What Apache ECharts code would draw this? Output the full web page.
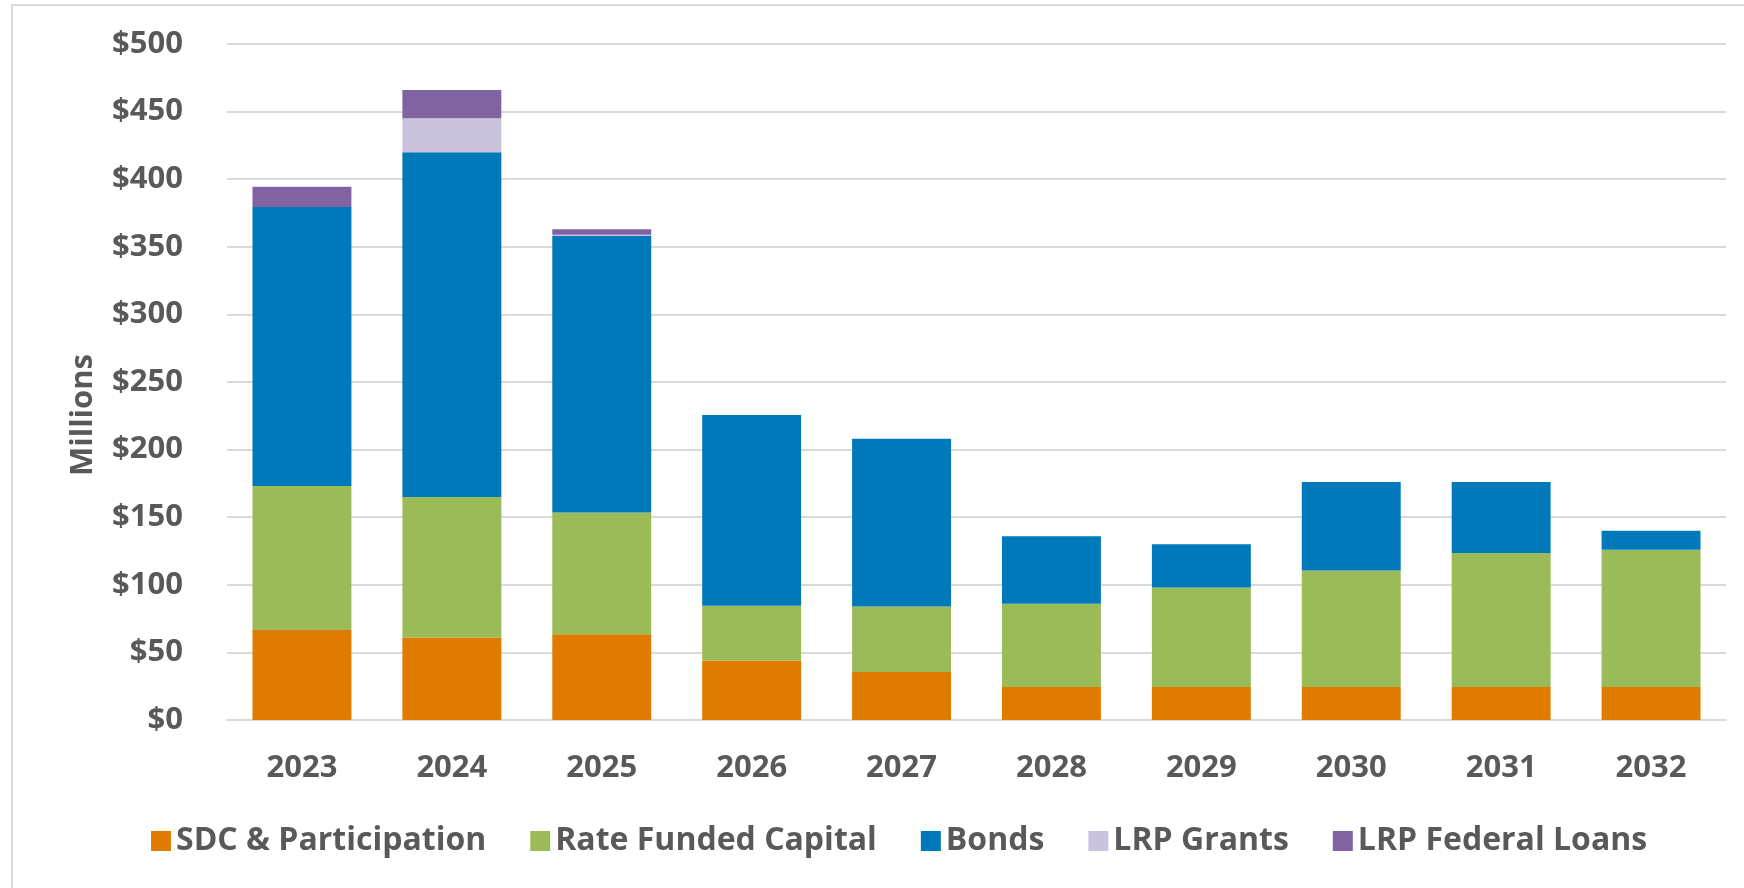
<!DOCTYPE html>
<html>
<head>
<meta charset="utf-8">
<script src="https://cdn.jsdelivr.net/npm/echarts@6/dist/echarts.min.js"></script>
<style>
  html, body { margin: 0; padding: 0; background: #fff; }
  #chart { width: 1744px; height: 888px; }
</style>
</head>
<body>
<div id="chart"></div>
<script>
// capital funding by year, $ millions
var years = ['2023', '2024', '2025', '2026', '2027', '2028', '2029', '2030', '2031', '2032'];
var sdc = [66.5, 61, 63.5, 44, 35.5, 24.5, 24.5, 24.5, 24.5, 24.5];
var rateFunded = [106.5, 104, 90, 40.5, 48.5, 61.5, 73.5, 86, 99, 101.5];
var bonds = [206.5, 255, 204.5, 141, 124, 50, 32, 65.5, 52.5, 14];
var lrpGrants = [0, 25, 1, 0, 0, 0, 0, 0, 0, 0];
var lrpLoans = [15, 21, 4, 0, 0, 0, 0, 0, 0, 0];

var textColor = '#595959';
var fontFam = '"Open Sans", sans-serif';

var myChart = echarts.init(document.getElementById('chart'));

function barSeries(name, data, color) {
    return {
        name: name,
        type: 'bar',
        stack: 'total',
        data: data,
        barWidth: '66%',
        itemStyle: { color: color },
        emphasis: { disabled: true }
    };
}

var option = {
    animation: false,
    backgroundColor: '#fff',
    textStyle: { fontFamily: fontFam },
    graphic: [
        {
            type: 'rect',
            shape: { x: 12, y: 5, width: 1760, height: 900 },
            style: { fill: 'none', stroke: '#d9d9d9', lineWidth: 2 },
            silent: true
        },
        {
            type: 'text',
            x: 83,
            y: 415,
            rotation: Math.PI / 2,
            style: {
                text: 'Millions',
                fill: textColor,
                font: 'bold 31px "Open Sans", sans-serif',
                textAlign: 'center',
                textVerticalAlign: 'middle'
            }
        }
    ],
    grid: {
        left: 227,
        right: 18,
        top: 44,
        bottom: 168
    },
    legend: {
        left: 146,
        top: 820,
        icon: 'rect',
        itemWidth: 20,
        itemHeight: 20,
        itemGap: 44,
        textStyle: {
            color: textColor,
            fontSize: 32,
            fontWeight: 'bold',
            fontFamily: fontFam
        },
        data: ['SDC & Participation', 'Rate Funded Capital', 'Bonds', 'LRP Grants', 'LRP Federal Loans']
    },
    xAxis: {
        type: 'category',
        data: years,
        axisLine: { show: true, lineStyle: { color: '#d9d9d9', width: 2 } },
        axisTick: { show: false },
        axisLabel: {
            color: textColor,
            fontSize: 31,
            fontWeight: 'bold',
            margin: 33
        }
    },
    yAxis: {
        type: 'value',
        min: 0,
        max: 500,
        interval: 50,
        axisLine: { show: false },
        axisTick: { show: false },
        splitLine: { lineStyle: { color: '#d9d9d9', width: 2 } },
        axisLabel: {
            color: textColor,
            fontSize: 31,
            fontWeight: 'bold',
            margin: 44,
            formatter: function (v) { return '$' + v; }
        }
    },
    series: [
        barSeries('SDC & Participation', sdc, '#df7c00'),
        barSeries('Rate Funded Capital', rateFunded, '#9bbb59'),
        barSeries('Bonds', bonds, '#0079bb'),
        barSeries('LRP Grants', lrpGrants, '#cbc2dd'),
        barSeries('LRP Federal Loans', lrpLoans, '#8064a2')
    ]
};

myChart.setOption(option);
</script>
</body>
</html>
